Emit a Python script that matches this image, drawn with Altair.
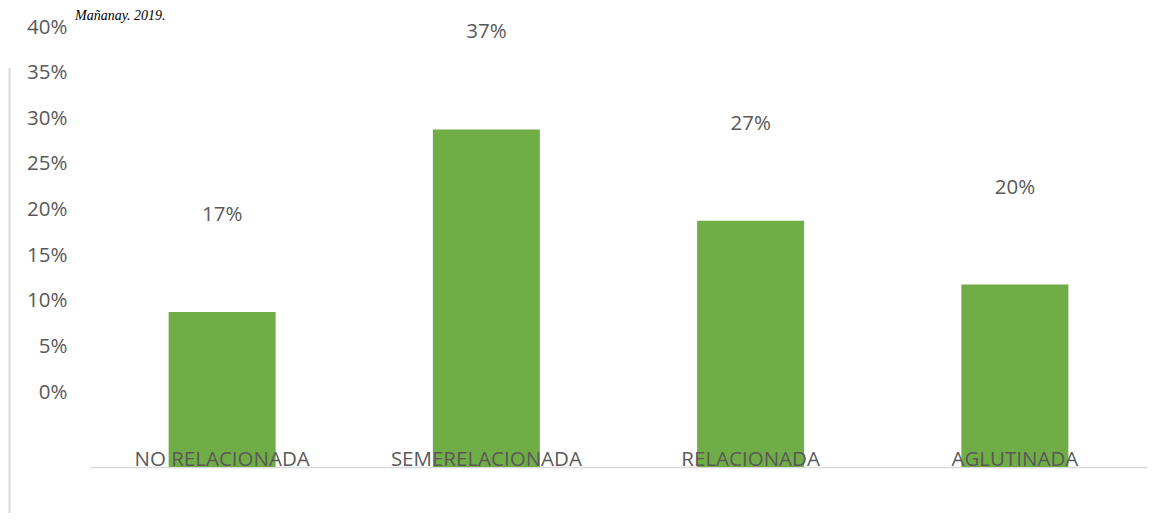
import altair as alt
import pandas as pd

categories = ["NO RELACIONADA", "SEMERELACIONADA", "RELACIONADA", "AGLUTINADA"]
values = [17, 37, 27, 20]
value_labels = ["17%", "37%", "27%", "20%"]
axis_ticks = [0, 5, 10, 15, 20, 25, 30, 35, 40]
title_text = "Mañanay. 2019."

df = pd.DataFrame({"cat": categories, "val": values, "lab": value_labels})

FONT = "Open Sans"
GRAY = "#595959"
FS = 20.5

x_enc = alt.X("cat:N", sort=categories,
              scale=alt.Scale(paddingInner=0.595, paddingOuter=0.2975),
              axis=alt.Axis(title=None, labels=False, ticks=False,
                            domainColor="#D9D9D9", domainWidth=1.5))
y_scale = alt.Scale(domain=[0, 48], nice=False, zero=True)
y_enc = alt.Y("val:Q", scale=y_scale,
              axis=alt.Axis(title=None, values=axis_ticks, grid=False, domain=False,
                            ticks=False, tickSize=0, labelPadding=23, labelOffset=-75,
                            labelExpr="datum.value + '%'", labelFont=FONT,
                            labelFontSize=FS, labelColor=GRAY))

base = alt.Chart(df)

bars = base.mark_bar(color="#70AD47", size=107).encode(x=x_enc, y=y_enc)

value_text = base.mark_text(font=FONT, fontSize=FS, color=GRAY, dy=-97,
                            baseline="middle", align="center").encode(
    x=alt.X("cat:N", sort=categories), y=alt.Y("val:Q"), text="lab:N")

cat_text = base.mark_text(font=FONT, fontSize=FS, color=GRAY, dy=-1,
                          baseline="alphabetic", align="center").encode(
    x=alt.X("cat:N", sort=categories), y=alt.datum(0), text="cat:N")

left_rule = alt.Chart(pd.DataFrame({"k": [0]})).mark_rule(color="#D9D9D9", strokeWidth=2).encode(
    x=alt.value(-80.5), y=alt.value(39), y2=alt.value(492))

title = alt.Chart(pd.DataFrame({"t": [title_text]})).mark_text(
    font="Liberation Serif", fontStyle="italic", fontSize=14, color="#000000",
    align="left", baseline="alphabetic").encode(
    x=alt.value(-15), y=alt.value(-9), text="t:N")

chart = alt.layer(bars, value_text, cat_text, left_rule, title).properties(
    width=1057, height=438,
    autosize=alt.AutoSizeParams(type="none"),
    padding={"left": 82, "top": 21, "right": 8, "bottom": 46},
).configure(background="white").configure_view(stroke=None, strokeWidth=0)

chart.save("out.html", embed_options={"renderer": "svg", "actions": False})
